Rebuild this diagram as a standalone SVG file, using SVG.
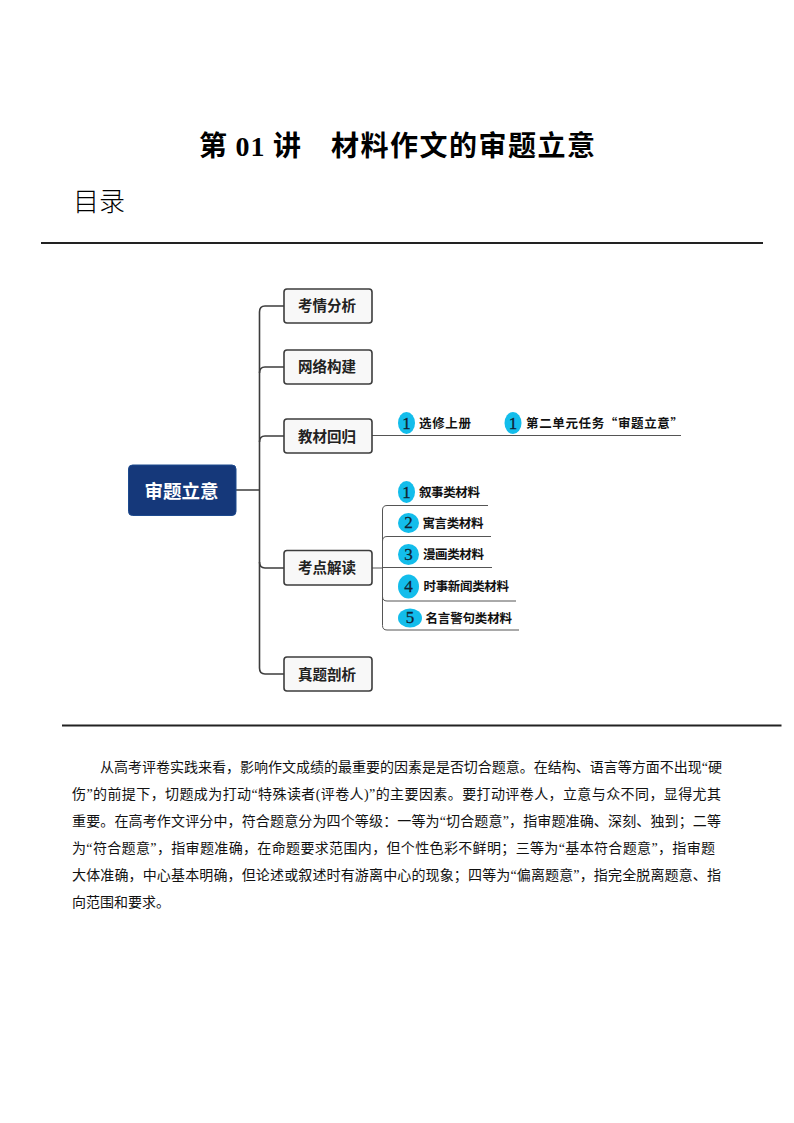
<svg xmlns="http://www.w3.org/2000/svg" width="794" height="1123" viewBox="0 0 794 1123">
<style>
text{font-family:"Liberation Serif","Noto Sans CJK SC",serif;fill:#000}
.body{font-size:14px;fill:#111}
.b{fill:#f8f8f8;stroke:#3c3c3c;stroke-width:1.6}
.bt{font-family:"Noto Sans CJK SC",sans-serif;font-size:14.500px;font-weight:700;fill:#222;text-anchor:middle}
.lab{font-family:"Noto Sans CJK SC",sans-serif;font-size:12.500px;font-weight:700;fill:#111}
.c{fill:#13bdeb}
.n{font-family:"Liberation Serif",serif;font-size:17px;fill:#123;text-anchor:middle;stroke:#123;stroke-width:.3}
.trunk{fill:none;stroke:#3c3c3c;stroke-width:1.6}
.thin{fill:none;stroke:#555;stroke-width:1}
</style>
<rect width="794" height="1123" fill="#fff"/>
<text x="199" y="156" font-size="28" font-weight="bold" textLength="102" lengthAdjust="spacing">第 01 讲</text>
<text x="331" y="156" font-size="28" font-weight="bold" textLength="264" lengthAdjust="spacing">材料作文的审题立意</text>
<text x="73" y="211" style="font-family:'Noto Sans CJK SC',sans-serif;font-weight:300" font-size="26">目录</text>
<rect x="41" y="242" width="722" height="2" fill="#222"/>
<g id="connectors">
<path class="trunk" d="M284 306H265Q259.500 306 259.500 312V668Q259.500 674 265 674H284"/>
<path class="trunk" d="M236 490H259.500M259.500 373Q259.500 367 265 367H284M259.500 442Q259.500 436 265 436H284M259.500 562Q259.500 568 265 568H284"/>
<path class="thin" d="M372 435.500H681"/>
<path class="thin" d="M372 568H382.500M488 505.500H387Q382.500 505.500 382.500 510V625.500Q382.500 630 387 630H519M382.500 541Q382.500 536.500 387 536.500H491M382.500 567.500H492M382.500 596.500Q382.500 601 387 601H516"/>
</g>
<g id="root"><rect x="128.500" y="465" width="107.500" height="50.500" rx="4" fill="#15387a" stroke="#1d4a8e"/><text x="181.500" y="498" style="font-family:'Noto Sans CJK SC',sans-serif;font-weight:700;fill:#fff;text-anchor:middle" font-size="18.500">审题立意</text></g>
<g id="n1"><rect class="b" x="284" y="289" width="88" height="34" rx="3"/><text class="bt" x="327" y="311">考情分析</text></g>
<g id="n2"><rect class="b" x="284" y="350" width="88" height="34" rx="3"/><text class="bt" x="327" y="372">网络构建</text></g>
<g id="n3"><rect class="b" x="284" y="419" width="88" height="34" rx="3"/><text class="bt" x="327" y="441.500">教材回归</text></g>
<g id="n4"><rect class="b" x="284" y="550.500" width="88" height="34.500" rx="3"/><text class="bt" x="327" y="573">考点解读</text></g>
<g id="n5"><rect class="b" x="284" y="657" width="88" height="34" rx="3"/><text class="bt" x="327" y="679.500">真题剖析</text></g>
<g id="t1"><ellipse class="c" cx="406.500" cy="423" rx="8.500" ry="11"/><text class="n" x="406.500" y="429">1</text><text class="lab" x="419" y="428" textLength="52">选修上册</text></g>
<g id="t2"><ellipse class="c" cx="513" cy="423" rx="8.500" ry="11"/><text class="n" x="513" y="429">1</text><text class="lab" x="526" y="428" textLength="157">第二单元任务“审题立意”</text></g>
<g id="s1"><ellipse class="c" cx="406.500" cy="492" rx="8.500" ry="11"/><text class="n" x="406.500" y="498">1</text><text class="lab" x="419" y="497" textLength="61">叙事类材料</text></g>
<g id="s2"><ellipse class="c" cx="408.500" cy="523" rx="10.500" ry="10"/><text class="n" x="408.500" y="528">2</text><text class="lab" x="422.500" y="528" textLength="61">寓言类材料</text></g>
<g id="s3"><ellipse class="c" cx="408.500" cy="554.500" rx="10.500" ry="10.500"/><text class="n" x="408.500" y="560">3</text><text class="lab" x="423" y="559" textLength="61">漫画类材料</text></g>
<g id="s4"><ellipse class="c" cx="408.500" cy="586.500" rx="10.500" ry="12"/><text class="n" x="408.500" y="592">4</text><text class="lab" x="423.500" y="591" textLength="85.500">时事新闻类材料</text></g>
<g id="s5"><ellipse class="c" cx="410" cy="618" rx="12" ry="9.500"/><text class="n" x="410" y="623">5</text><text class="lab" x="425.500" y="623" textLength="86.500">名言警句类材料</text></g>
<rect x="62" y="724.500" width="719.500" height="2" fill="#222"/>
<g id="para">
<text class="body" x="100" y="772" textLength="622">从高考评卷实践来看，影响作文成绩的最重要的因素是是否切合题意。在结构、语言等方面不出现“硬</text>
<text class="body" x="72" y="799" textLength="649">伤”的前提下，切题成为打动“特殊读者(评卷人)”的主要因素。要打动评卷人，立意与众不同，显得尤其</text>
<text class="body" x="72" y="826" textLength="649">重要。在高考作文评分中，符合题意分为四个等级：一等为“切合题意”，指审题准确、深刻、独到；二等</text>
<text class="body" x="72" y="853" textLength="643">为“符合题意”，指审题准确，在命题要求范围内，但个性色彩不鲜明；三等为“基本符合题意”，指审题</text>
<text class="body" x="72" y="880" textLength="649">大体准确，中心基本明确，但论述或叙述时有游离中心的现象；四等为“偏离题意”，指完全脱离题意、指</text>
<text class="body" x="72" y="907">向范围和要求。</text>
</g>
</svg>
